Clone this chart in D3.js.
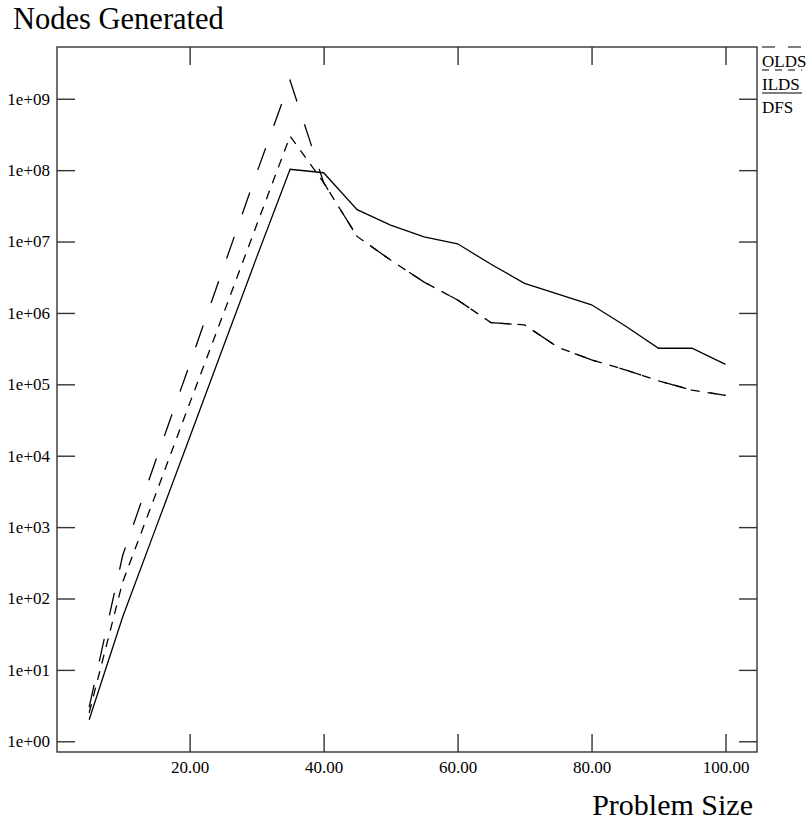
<!DOCTYPE html>
<html>
<head>
<meta charset="utf-8">
<script src="https://cdn.jsdelivr.net/npm/d3@7"></script>
<style>
  body { margin: 0; background: #fff; }
  svg { display: block; font-family: "Liberation Serif", "DejaVu Serif", serif; }
</style>
</head>
<body>
<div id="chart"></div>
<script>
// problem sizes
const sizes = [5, 10, 15, 20, 25, 30, 35, 40, 45, 50, 55, 60, 65, 70, 75, 80, 85, 90, 95, 100];

// nodes generated per algorithm
const dfs  = [2, 55, 1000, 1.8e4, 3.3e5, 6e6, 1.03e8, 9.2e7, 2.8e7, 1.7e7, 1.16e7, 9.3e6,
              4.8e6, 2.6e6, 1.84e6, 1.3e6, 6.6e5, 3.2e5, 3.2e5, 1.9e5];
const ilds = [2.5, 170, 3000, 5.4e4, 9.5e5, 1.7e7, 3e8, 6.7e7, 1.18e7, 5.5e6, 2.7e6, 1.52e6,
              7.3e5, 6.8e5, 3.3e5, 2.2e5, 1.6e5, 1.12e5, 8.3e4, 7e4];
const olds = [3, 400, 8900, 1.9e5, 4.2e6, 9.1e7, 1.8e9, 6.7e7, 1.18e7, 5.5e6, 2.7e6, 1.52e6,
              7.3e5, 6.8e5, 3.3e5, 2.2e5, 1.6e5, 1.12e5, 8.3e4, 7e4];

const xTicks = [20, 40, 60, 80, 100];
const yTicks = [1e0, 1e1, 1e2, 1e3, 1e4, 1e5, 1e6, 1e7, 1e8, 1e9];

const series = [
  { name: "OLDS", values: olds, dash: "23,24", legendDash: "13,13" },
  { name: "ILDS", values: ilds, dash: "9,8", legendDash: "7,6" },
  { name: "DFS",  values: dfs,  dash: null, legendDash: null }
];

const W = 811, H = 822;
const plot = { left: 57, right: 757, top: 47, bottom: 752 };

const svg = d3.select("#chart").append("svg")
  .attr("width", W)
  .attr("height", H);

const x = d3.scaleLinear().domain([0.2, 104.7]).range([plot.left, plot.right]);
const y = d3.scaleLog().domain([Math.pow(10, -0.15), Math.pow(10, 9.725)]).range([plot.bottom, plot.top]);

// frame
svg.append("rect")
  .attr("x", plot.left).attr("y", plot.top)
  .attr("width", plot.right - plot.left).attr("height", plot.bottom - plot.top)
  .style("fill", "none")
  .style("stroke", "#333")
  .style("stroke-width", 1.4);

const tickLen = 18;

// bottom + top ticks
const xAxisBottom = d3.axisBottom(x).tickValues(xTicks).tickSize(-tickLen).tickPadding(9)
  .tickFormat(d3.format(".2f"));
const gxb = svg.append("g").attr("transform", `translate(0,${plot.bottom})`).call(xAxisBottom);
const gxt = svg.append("g").attr("transform", `translate(0,${plot.top})`)
  .call(d3.axisTop(x).tickValues(xTicks).tickSize(-tickLen).tickFormat(""));

// left + right ticks
const yAxisLeft = d3.axisLeft(y).tickValues(yTicks).tickSize(-tickLen).tickPadding(7)
  .tickFormat(d => "1e+" + String(Math.round(Math.log10(d))).padStart(2, "0"));
const gyl = svg.append("g").attr("transform", `translate(${plot.left},0)`).call(yAxisLeft);
const gyr = svg.append("g").attr("transform", `translate(${plot.right},0)`)
  .call(d3.axisRight(y).tickValues(yTicks).tickSize(-tickLen).tickFormat(""));

[gxb, gxt, gyl, gyr].forEach(g => {
  g.select(".domain").remove();
  g.selectAll(".tick line").style("stroke", "#333").style("stroke-width", 1.4);
  g.selectAll(".tick text")
    .style("font-family", "'Liberation Serif', serif")
    .style("font-size", "17px")
    .style("fill", "#000");
});

// lines
const line = d3.line()
  .x((d, i) => x(sizes[i]))
  .y(d => y(d));

series.forEach(s => {
  svg.append("path")
    .datum(s.values)
    .attr("d", line)
    .style("fill", "none")
    .style("stroke", "#000")
    .style("stroke-width", 1.3)
    .style("stroke-dasharray", s.dash);
});

// legend at top right, line above each label
const legend = svg.append("g");
series.forEach((s, i) => {
  const ly = 47 + i * 23;
  legend.append("line")
    .attr("x1", 762).attr("x2", 802)
    .attr("y1", ly).attr("y2", ly)
    .style("stroke", "#000")
    .style("stroke-width", 1.2)
    .style("stroke-dasharray", s.legendDash);
  legend.append("text")
    .attr("x", 762).attr("y", ly + 20)
    .text(s.name)
    .style("font-size", "17px");
});

// axis titles
svg.append("text")
  .attr("x", 13).attr("y", 29)
  .text("Nodes Generated")
  .style("font-size", "30.5px");

svg.append("text")
  .attr("x", 753).attr("y", 815)
  .attr("text-anchor", "end")
  .text("Problem Size")
  .style("font-size", "30px");
</script>
</body>
</html>
